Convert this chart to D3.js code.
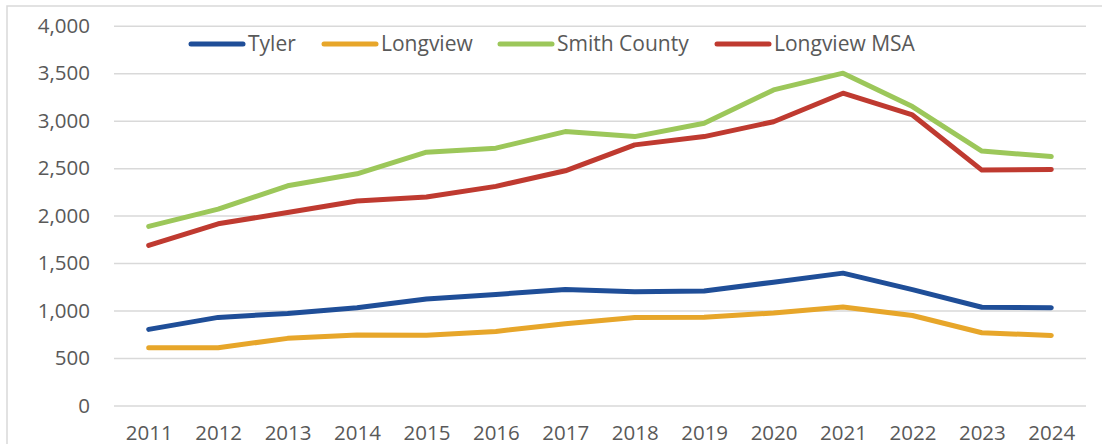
<!DOCTYPE html>
<html>
<head>
<meta charset="utf-8">
<script src="https://cdn.jsdelivr.net/npm/d3@7"></script>
<style>
  body { margin: 0; background: #fff; }
  svg text { font-family: "Open Sans", sans-serif; fill: #595959; }
</style>
</head>
<body>
<svg id="chart" width="1102" height="444"></svg>
<script>
// Chart data
const years = [2011, 2012, 2013, 2014, 2015, 2016, 2017, 2018, 2019, 2020, 2021, 2022, 2023, 2024];
const tyler = [802, 928, 970, 1030, 1122, 1170, 1222, 1199, 1206, 1299, 1394, 1220, 1035, 1030];
const longview = [609, 609, 707, 742, 741, 780, 862, 928, 930, 975, 1037, 948, 766, 738];
const smithCounty = [1886, 2068, 2314, 2440, 2668, 2710, 2885, 2832, 2972, 3324, 3500, 3148, 2680, 2622];
const longviewMSA = [1686, 1914, 2032, 2154, 2196, 2308, 2472, 2745, 2832, 2989, 3289, 3060, 2479, 2486];
const yTicks = [0, 500, 1000, 1500, 2000, 2500, 3000, 3500, 4000];

const series = [
    { name: "Tyler", values: tyler, color: "#1f4e98" },
    { name: "Longview", values: longview, color: "#e7a62a" },
    { name: "Smith County", values: smithCounty, color: "#9cc75a" },
    { name: "Longview MSA", values: longviewMSA, color: "#bf3a30" }
];

const svg = d3.select("#chart");
const margin = { left: 114, right: 1086, top: 25.7, bottom: 405.5 };

// chart frame (only top and left edges are visible in the crop)
svg.append("rect")
    .attr("x", 7).attr("y", 6)
    .attr("width", 1200).attr("height", 600)
    .attr("fill", "none")
    .attr("stroke", "#d9d9d9")
    .attr("stroke-width", 1.5);

const x = d3.scalePoint()
    .domain(years)
    .range([margin.left, margin.right])
    .padding(0.5);

const y = d3.scaleLinear()
    .domain([0, 4000])
    .range([margin.bottom, margin.top]);

// gridlines + y labels
const yAxis = svg.append("g")
    .attr("transform", `translate(${margin.left},0)`)
    .call(d3.axisLeft(y)
        .tickValues(yTicks)
        .tickSize(-(margin.right - margin.left))
        .tickPadding(24)
        .tickFormat(d3.format(",")));
yAxis.select(".domain").remove();
yAxis.selectAll(".tick line").attr("stroke", "#d9d9d9").attr("stroke-width", 1.5);
yAxis.selectAll(".tick text").attr("font-size", 20.5).attr("fill", "#595959");

// x labels
const xAxis = svg.append("g")
    .attr("transform", `translate(0,${margin.bottom})`)
    .call(d3.axisBottom(x).tickSize(0).tickPadding(20));
xAxis.select(".domain").remove();
xAxis.selectAll(".tick text").attr("font-size", 20.5).attr("fill", "#595959");

const line = d3.line()
    .x((d, i) => x(years[i]))
    .y(d => y(d));

svg.append("g")
    .selectAll("path")
    .data(series)
    .enter().append("path")
    .attr("d", d => line(d.values))
    .attr("fill", "none")
    .attr("stroke", d => d.color)
    .attr("stroke-width", 5)
    .attr("stroke-linejoin", "round")
    .attr("stroke-linecap", "round");

// legend
const legendX = [191, 324, 500, 717];
const legend = svg.append("g")
    .selectAll("g")
    .data(series)
    .enter().append("g")
    .attr("transform", (d, i) => `translate(${legendX[i]},44)`);

legend.append("line")
    .attr("x1", 0).attr("x2", 52)
    .attr("stroke", d => d.color)
    .attr("stroke-width", 5)
    .attr("stroke-linecap", "round");

legend.append("text")
    .attr("x", 57)
    .attr("dy", "0.35em")
    .attr("font-size", 21)
    .text(d => d.name);
</script>
</body>
</html>
